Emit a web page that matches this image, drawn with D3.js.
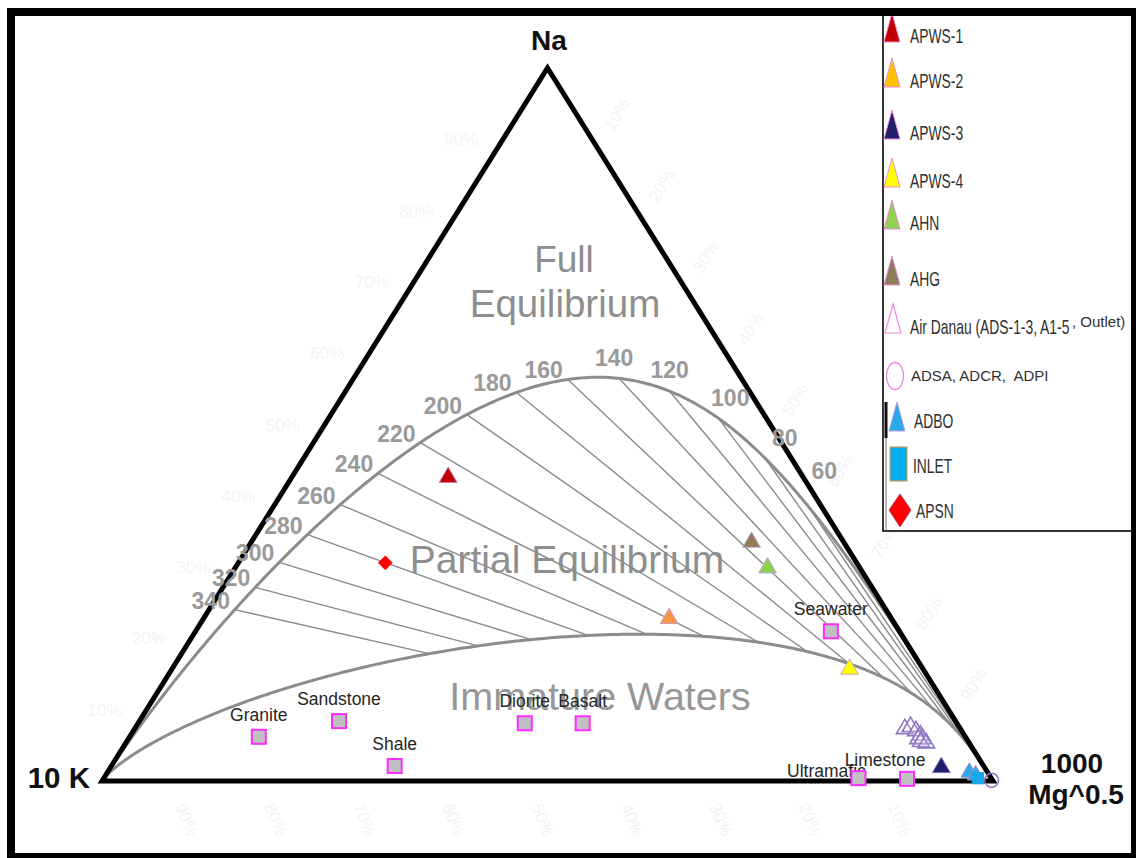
<!DOCTYPE html>
<html>
<head>
<meta charset="utf-8">
<script src="https://cdn.jsdelivr.net/npm/d3@7"></script>
<style>
  body { margin: 0; background: #fff; }
  svg { display: block; font-family: "Liberation Sans", Arial, sans-serif; }
</style>
</head>
<body>
<svg id="chart" width="1136" height="858"></svg>
<script>
// ---- Sample compositions, ternary percent: [Na/1000, K/100, Mg^0.5] ----
const apws1    = [[42.9, 39.7, 17.4]];
const apws2    = [[23.1, 24.8, 52.1]];
const apws3    = [[2.2, 4.7, 93.1]];
const apws4    = [[16.0, 8.1, 75.9]];
const ahn      = [[30.2, 10.2, 59.6]];
const ahg      = [[33.8, 10.2, 56.0]];
const airDanau = [[7.6, 6.1, 86.3], [7.9, 5.3, 86.8], [7.3, 5.0, 87.7], [6.7, 4.8, 88.5],
                  [6.2, 5.3, 88.5], [6.2, 4.8, 89.0], [5.8, 5.2, 89.0], [5.6, 4.7, 89.7]];
const adsa     = [[0.1, 0.1, 99.8]];
const adbo     = [[1.5, 1.9, 96.6], [1.1, 1.4, 97.5]];
const inlet    = [[0.4, 1.5, 98.1]];
const apsn     = [[30.6, 52.9, 16.5]];

// ---- Average rock / seawater compositions ----
const rockNames = ["Granite", "Sandstone", "Shale", "Diorite", "Basalt", "Seawater", "Ultramafic", "Limestone"];
const rockNa    = [6.2, 8.4, 2.1, 8.1, 8.1, 21.0, 0.4, 0.3];
const rockK     = [79.3, 69.2, 66.1, 48.5, 42.0, 7.7, 14.9, 9.5];
const rockMg    = [14.5, 22.4, 31.8, 43.4, 49.9, 71.3, 84.7, 90.2];

// ---- Isotherms (°C) of the Na-K geothermometer ----
const isotherms = [60, 80, 100, 120, 140, 160, 180, 200, 220, 240, 260, 280, 300, 320, 340];

// ---- Faint percentage ticks ----
const pctTicks = [10, 20, 30, 40, 50, 60, 70, 80, 90];

// Maturity index bounding the immature-water field
const MI_PARTIAL = 1.96;

// ---------------------------------------------------------------------
const svg = d3.select("#chart");

const xScale = d3.scaleLinear().domain([0, 1]).range([102, 993]);
const yScale = d3.scaleLinear().domain([0, 1]).range([781, 68]);

function project(c) {
  const s = c[0] + c[1] + c[2];
  const n = c[0] / s, m = c[2] / s;
  return [xScale(m + n / 2), yScale(n)];
}

// Full equilibrium: Na-K (Giggenbach 1988) and K-Mg geothermometers, Na = 1000 mg/kg
function fullEq(L) {
  const K = 1000 / Math.pow(10, L);
  const TK = 1390 / (L + 1.75);
  const logK2Mg = 14.0 - 4410 / TK;
  const Mg = K * K / Math.pow(10, logK2Mg);
  return [1, K / 100, Math.sqrt(Mg)];
}
// Partial equilibrium boundary from the maturity index
function partialEq(L) {
  const K = 1000 / Math.pow(10, L);
  const logK2Mg = (MI_PARTIAL - L) / 0.315;
  const Mg = K * K / Math.pow(10, logK2Mg);
  return [1, K / 100, Math.sqrt(Mg)];
}
const naKofT = t => 1390 / (t + 273.15) - 1.75;

const vK = [0, 1, 0], vMg = [0, 0, 1], vNa = [1, 0, 0];
const line = d3.line();

// faint percentage labels
const faint = svg.append("g").attr("fill", "#f3f3f3").attr("font-size", 17);
pctTicks.forEach(p => {
  const [lx, ly] = project([p, 100 - p, 0]);
  faint.append("text").attr("x", lx - 42).attr("y", ly + 6).attr("text-anchor", "middle").text(p + "%");
  const [rx, ry] = project([100 - p, 0, p]);
  faint.append("text").attr("transform", `translate(${rx + 30},${ry - 22}) rotate(-58)`)
    .attr("text-anchor", "middle").text(p + "%");
  const [bx] = project([0, 100 - p, p]);
  faint.append("text").attr("transform", `translate(${bx - 10},${822}) rotate(68)`)
    .attr("text-anchor", "middle").text((100 - p) + "%");
});

// curves
const fullPts = [project(vK)].concat(d3.range(-1.7, 6.0001, 0.01).map(L => project(fullEq(L))), [project(vMg)]);
const partPts = [project(vK)].concat(d3.range(-3, 5.0001, 0.01).map(L => project(partialEq(L))), [project(vMg)]);

// isotherm lines between both curves
const isoG = svg.append("g").attr("stroke", "#8a8a8a").attr("stroke-width", 1.4).attr("fill", "none");
isotherms.forEach(t => {
  const L = naKofT(t);
  isoG.append("path").attr("d", line([project(fullEq(L)), project(partialEq(L))]));
});

svg.append("path").attr("d", line(fullPts)).attr("fill", "none")
  .attr("stroke", "#8c8c8c").attr("stroke-width", 3);
svg.append("path").attr("d", line(partPts)).attr("fill", "none")
  .attr("stroke", "#8c8c8c").attr("stroke-width", 3);

// triangle
svg.append("path").attr("d", line([project(vK), project(vNa), project(vMg)]) + "Z")
  .attr("fill", "none").attr("stroke", "#000").attr("stroke-width", 5).attr("stroke-linejoin", "miter");

// field names
const fieldG = svg.append("g").attr("fill", "#8e8e8e").attr("text-anchor", "middle").attr("font-size", 37);
fieldG.append("text").attr("x", 564).attr("y", 272).text("Full");
fieldG.append("text").attr("x", 565).attr("y", 317).attr("font-size", 38.5).text("Equilibrium");
fieldG.append("text").attr("x", 567).attr("y", 573).attr("font-size", 39).text("Partial Equilibrium");
fieldG.append("text").attr("x", 600).attr("y", 710).attr("font-size", 39.5).attr("fill", "#979797").text("Immature Waters");

// isotherm labels: set just outside the full-equilibrium curve
const labelOffset = { 60: [15, -37], 80: [20, -20], 100: [12, -20], 120: [0, -21], 140: [-5, -20] };
const tickG = svg.append("g").attr("fill", "#9a9a9a").attr("font-weight", "bold")
  .attr("font-size", 23).attr("text-anchor", "middle");
isotherms.forEach(t => {
  const p = project(fullEq(naKofT(t)));
  const off = labelOffset[t] || [-24, -9];
  tickG.append("text").attr("x", p[0] + off[0]).attr("y", p[1] + off[1] + 8).text(t);
});

// rocks
const rockLabelShift = { "Limestone": -22, "Ultramafic": -32 };
const rockLabelDrop = { "Limestone": 3, "Ultramafic": 15 };
const rockG = svg.append("g");
rockNames.forEach((name, i) => {
  const [x, y] = project([rockNa[i], rockK[i], rockMg[i]]);
  rockG.append("text").attr("x", x + (rockLabelShift[name] || 0)).attr("y", y - 16 + (rockLabelDrop[name] || 0))
    .attr("text-anchor", "middle").attr("font-size", 17.5).attr("fill", "#262626").text(name);
});
rockNames.forEach((name, i) => {
  const [x, y] = project([rockNa[i], rockK[i], rockMg[i]]);
  rockG.append("rect").attr("x", x - 7).attr("y", y - 7).attr("width", 14).attr("height", 14)
    .attr("fill", "#c0c0c0").attr("stroke", "#ff2cff").attr("stroke-width", 2);
});

// marker shapes
const triSym = { draw(ctx, size) { const w = Math.sqrt(size); ctx.moveTo(0, -w * 0.5); ctx.lineTo(w * 0.55, w * 0.45); ctx.lineTo(-w * 0.55, w * 0.45); ctx.closePath(); } };
const diaSym = { draw(ctx, size) { const w = Math.sqrt(size) / 2; ctx.moveTo(0, -w); ctx.lineTo(w, 0); ctx.lineTo(0, w); ctx.lineTo(-w, 0); ctx.closePath(); } };

const series = [
  { data: airDanau, shape: triSym, size: 230, fill: "rgba(255,255,255,0.15)", stroke: "#8f77c6", sw: 1.6 },
  { data: apws1, shape: triSym, size: 260, fill: "#c00000", stroke: "#c77ab8", sw: 1 },
  { data: apws2, shape: triSym, size: 260, fill: "#f79646", stroke: "#c99bc9", sw: 1 },
  { data: apws3, shape: triSym, size: 260, fill: "#1f1f6e", stroke: "#7a6fb8", sw: 1 },
  { data: apws4, shape: triSym, size: 260, fill: "#ffff00", stroke: "#c9a7c9", sw: 1 },
  { data: ahn, shape: triSym, size: 260, fill: "#8fcf4f", stroke: "#c3a0d6", sw: 1 },
  { data: ahg, shape: triSym, size: 260, fill: "#8c7d58", stroke: "#c3a0d6", sw: 1 },
  { data: adbo, shape: triSym, size: 230, fill: "#2fa8e6", stroke: "#9a8bd0", sw: 1 },
  { data: inlet, shape: d3.symbolSquare, size: 130, fill: "#1aa7e8", stroke: "#1aa7e8", sw: 1 },
  { data: apsn, shape: diaSym, size: 200, fill: "#ff0000", stroke: "#ff0000", sw: 0.5 },
  { data: adsa, shape: d3.symbolCircle, size: 150, fill: "none", stroke: "#8f77c6", sw: 1.5 }
];
const markG = svg.append("g");
series.forEach(s => {
  s.data.forEach(d => {
    const [x, y] = project(d);
    markG.append("path").attr("transform", `translate(${x},${y})`)
      .attr("d", d3.symbol().type(s.shape).size(s.size)())
      .attr("fill", s.fill).attr("stroke", s.stroke).attr("stroke-width", s.sw);
  });
});

// vertex labels
const vG = svg.append("g").attr("font-weight", "bold").attr("font-size", 28).attr("fill", "#111");
vG.append("text").attr("x", 549).attr("y", 50).attr("text-anchor", "middle").text("Na");
vG.append("text").attr("x", 90).attr("y", 788).attr("text-anchor", "end").attr("font-size", 29.5).text("10 K");
vG.append("text").attr("x", 1072).attr("y", 773).attr("text-anchor", "middle").text("1000");
vG.append("text").attr("x", 1076).attr("y", 804).attr("text-anchor", "middle").text("Mg^0.5");

// legend
const legendNames  = ["APWS-1", "APWS-2", "APWS-3", "APWS-4", "AHN", "AHG"];
const legendFills  = ["#c00000", "#ffc000", "#1f1f6e", "#ffff00", "#92d050", "#8c7d58"];
const legendY      = [35, 80, 132, 180, 222, 278];
const lg = svg.append("g");
lg.append("rect").attr("x", 883).attr("y", 14).attr("width", 250).attr("height", 517)
  .attr("fill", "#fff").attr("stroke", "#222").attr("stroke-width", 1.8);
const tallTri = (cx, cy) => {
  const p = d3.path();
  p.moveTo(cx, cy - 22); p.lineTo(cx + 8, cy + 7); p.lineTo(cx - 8, cy + 7); p.closePath();
  return p.toString();
};
const narrowText = (x, y, str, size) =>
  lg.append("text").attr("transform", `translate(${x},${y}) scale(0.66,1)`)
    .attr("font-size", size || 21).attr("fill", "#303030").text(str);

legendNames.forEach((n, i) => {
  lg.append("path").attr("d", tallTri(892, legendY[i])).attr("fill", legendFills[i])
    .attr("stroke", "#f08ad8").attr("stroke-width", 1);
  narrowText(910, legendY[i] + 8, n);
});
// Air Danau
lg.append("path").attr("d", tallTri(893, 326)).attr("fill", "none").attr("stroke", "#f08ad8").attr("stroke-width", 1.2);
narrowText(910, 334, "Air Danau (ADS-1-3, A1-5");
lg.append("text").attr("x", 1072).attr("y", 327).attr("font-size", 15).attr("fill", "#303030").text(", Outlet)");
// ADSA
lg.append("ellipse").attr("cx", 895).attr("cy", 376).attr("rx", 8.5).attr("ry", 13.5)
  .attr("fill", "none").attr("stroke", "#ee82ee").attr("stroke-width", 1.3);
lg.append("text").attr("x", 911).attr("y", 381).attr("font-size", 15).attr("fill", "#303030")
  .attr("xml:space", "preserve").text("ADSA, ADCR,  ADPI");
// ADBO
lg.append("rect").attr("x", 884.5).attr("y", 402).attr("width", 3).attr("height", 36).attr("fill", "#111");
lg.append("rect").attr("x", 885.5).attr("y", 438).attr("width", 1.2).attr("height", 92).attr("fill", "#8a8a8a");
lg.append("path").attr("d", tallTri(897, 424)).attr("fill", "#29aae6").attr("stroke", "#b89be0").attr("stroke-width", 1);
narrowText(914, 428, "ADBO");
// INLET
lg.append("rect").attr("x", 890).attr("y", 447).attr("width", 17).attr("height", 34)
  .attr("fill", "#00b0f0").attr("stroke", "#c9a35a").attr("stroke-width", 1.2);
narrowText(913, 473, "INLET");
// APSN
lg.append("path").attr("d", "M900,494 L911,510 L900,527 L889,510 Z").attr("fill", "#ff0000").attr("stroke", "#b03060").attr("stroke-width", 0.8);
narrowText(916, 518, "APSN");

// outer frame
const fr = svg.append("g").attr("fill", "#000");
fr.append("rect").attr("x", 7).attr("y", 8).attr("width", 1129).attr("height", 8);
fr.append("rect").attr("x", 7).attr("y", 8).attr("width", 8).attr("height", 850);
fr.append("rect").attr("x", 1131).attr("y", 8).attr("width", 5).attr("height", 850);
fr.append("rect").attr("x", 7).attr("y", 853).attr("width", 1129).attr("height", 5);
</script>
</body>
</html>
